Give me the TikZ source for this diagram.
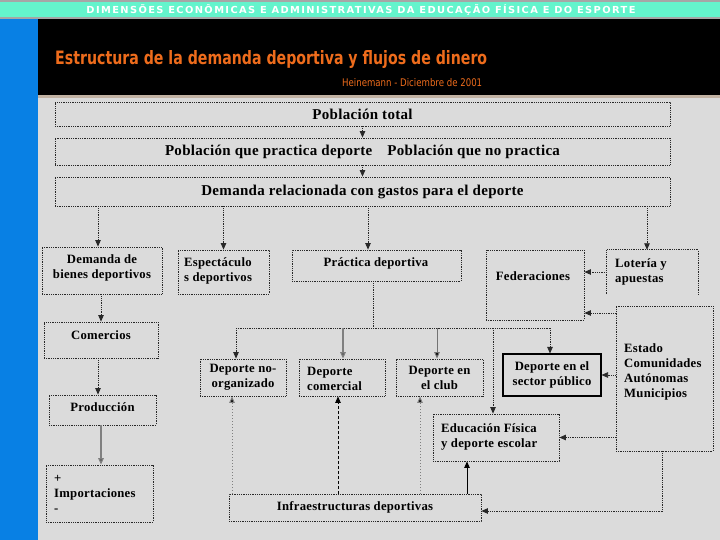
\documentclass[tikz,border=0pt]{standalone}
\usepackage{fontspec}
\setmainfont{Liberation Serif}[LetterSpace=2]
\newfontfamily\titlef{DejaVu Sans}
\newfontfamily\bandf{DejaVu Sans}[LetterSpace=14]
\usetikzlibrary{arrows.meta,calc}
\definecolor{bandc}{RGB}{100,244,204}
\definecolor{bluec}{RGB}{8,128,228}
\definecolor{bgc}{RGB}{219,219,219}
\definecolor{orangec}{RGB}{238,108,28}
\definecolor{linec}{RGB}{40,40,40}
\tikzset{
  box/.style={draw=linec, densely dotted, line width=0.8pt, inner sep=0pt},
  solidbox/.style={draw=black, line width=1.1pt, inner sep=0pt},
  lblbig/.style={font=\fontsize{15}{17}\selectfont\bfseries, inner sep=0pt, align=center},
  lbl/.style={font=\fontsize{12.7}{15}\selectfont\bfseries, inner sep=0pt, align=center},
  lbll/.style={font=\fontsize{12.7}{15}\selectfont\bfseries, inner sep=0pt, align=left},
  arr/.style={draw=linec, densely dotted, line width=0.8pt, -{Triangle[length=6.5pt,width=5.5pt]}},
  ln/.style={draw=linec, densely dotted, line width=0.8pt},
  garr/.style={draw=gray, line width=1.4pt, -{Triangle[length=6.5pt,width=5.5pt,fill=black]}},
  garrt/.style={draw=gray!90!black, line width=1pt, -{Triangle[length=6.5pt,width=5.5pt,fill=black]}},
  sarr/.style={draw=black, line width=0.8pt, -{Triangle[length=6.5pt,width=5.5pt]}},
  gdot/.style={draw=gray, dotted, line width=1pt, -{Triangle[length=6.5pt,width=5.5pt,fill=black]}},
  darr/.style={draw=black, dashed, dash pattern=on 3pt off 2pt, line width=0.7pt, -{Triangle[length=6.5pt,width=5.5pt]}}
}
\begin{document}
\begin{tikzpicture}[x=1pt,y=-1pt]
\useasboundingbox (0,0) rectangle (720,540);
% backgrounds
\fill[bgc] (0,0) rectangle (720,540);
\fill[gray!70] (0,0) rectangle (720,19);
\fill[bandc] (0,2) rectangle (720,17);
\fill[bluec] (0,19) rectangle (38,540);
\fill[black] (38,19) rectangle (720,95);
\fill[gray!60!brown!60] (38,95) rectangle (720,98);
\node[inner sep=0pt, text=white] (band) at (361,9.5) {\resizebox{549pt}{9pt}{\bandf\bfseries DIMENSÕES ECONÔMICAS E ADMINISTRATIVAS DA EDUCAÇÃO FÍSICA E DO ESPORTE}};
\node[inner sep=0pt, anchor=base west, text=orangec] (title) at (55,64.5) {\resizebox{432pt}{14pt}{\titlef\bfseries Estructura de la demanda deportiva y flujos de dinero}};
\node[inner sep=0pt, anchor=base west, text=orangec] (sub) at (342,87) {\resizebox{140pt}{8pt}{\titlef Heinemann - Diciembre de 2001}};

% top boxes
\node[box, minimum width=615pt, minimum height=24pt] (pt) at (362.5,114) {};
\node[lblbig] (ptT) at (pt) {Población total};
\node[box, minimum width=615pt, minimum height=27pt] (pq) at (362.5,151.5) {};
\node[lblbig] (pqT) at (pq) {Población que practica deporte\quad Población que no practica};
\node[box, minimum width=615pt, minimum height=29pt] (drg) at (362.5,191.5) {};
\node[lblbig] (drgT) at (drg) {Demanda relacionada con gastos para el deporte};

% second row
\node[box, minimum width=120pt, minimum height=47pt] (bienes) at (102,270.5) {};
\node[lbl] (bienesT) at (102,268) {Demanda de\\bienes deportivos};
\node[box, minimum width=91pt, minimum height=44pt] (espec) at (223.5,272) {};
\node[lbll, anchor=west] (especT) at (184,271) {Espectáculo\\s deportivos};
\node[box, minimum width=169pt, minimum height=31pt] (prac) at (376.5,265.5) {};
\node[lbl] (pracT) at (376,263) {Práctica deportiva};
\node[box, minimum width=98pt, minimum height=70pt] (fed) at (535,285) {};
\node[lbl] (fedT) at (533,276) {Federaciones};
\node[minimum width=91pt, minimum height=44pt, inner sep=0pt] (lot) at (652.5,272) {};
\draw[ln] (lot.south west) -- (lot.north west) -- (lot.north east) -- (lot.south east);
\node[lbll, anchor=west] (lotT) at (615,272) {Lotería y\\apuestas};
\node[box, minimum width=97pt, minimum height=145pt] (estado) at (664.5,378.5) {};
\node[lbll, anchor=north west] (estadoT) at (624,343) {Estado\\Comunidades\\Autónomas\\Municipios};

% left column
\node[box, minimum width=114pt, minimum height=36pt] (com) at (101,340) {};
\node[lbl] (comT) at (101,335) {Comercios};
\node[box, minimum width=107pt, minimum height=30pt] (prod) at (102.5,410) {};
\node[lbl] (prodT) at (102.5,407) {Producción};
\node[box, minimum width=107pt, minimum height=57pt] (imp) at (99.5,493.5) {};
\node[lbll, anchor=west] (impT) at (54,493.5) {+\\Importaciones\\-};

% practice types
\node[box, minimum width=86pt, minimum height=37pt] (dno) at (243,377.5) {};
\node[lbl] (dnoT) at (dno) {Deporte no-\\organizado};
\node[box, minimum width=86pt, minimum height=37pt] (dcom) at (342,377.5) {};
\node[lbll, anchor=west] (dcomT) at (307,378.5) {Deporte\\comercial};
\node[box, minimum width=87pt, minimum height=37pt] (dclub) at (439.5,377.5) {};
\node[lbl] (dclubT) at (dclub) {Deporte en\\el club};
\node[solidbox, minimum width=98pt, minimum height=42pt] (dpub) at (552,375) {};
\node[lbl] (dpubT) at (dpub) {Deporte en el\\sector público};
\node[box, minimum width=126pt, minimum height=47pt] (edu) at (496,437.5) {};
\node[lbll, anchor=west] (eduT) at (441,437) {Educación Física\\y deporte escolar};
\node[box, minimum width=252pt, minimum height=27pt] (infra) at (355,507.5) {};
\node[lbl] (infraT) at (infra) {Infraestructuras deportivas};

% coordinates
\coordinate (b1) at (236,328);
\coordinate (b2) at (343,328);
\coordinate (b3) at (437,328);
\coordinate (b4) at (493,328);
\coordinate (b5) at (550,328);
\coordinate (bp) at (373,328);
\coordinate (yF2) at (0,313);
\coordinate (ec) at (662,511);
\coordinate (i1) at (232,0);
\coordinate (i2) at (338,0);
\coordinate (i3) at (420,0);
\coordinate (i4) at (467,0);
\coordinate (d1) at (98,0);
\coordinate (d3) at (368,0);
\coordinate (d4) at (647,0);

% connectors top
\draw[arr] (pt.south) -- (pq.north);
\draw[arr] (pq.south) -- (drg.north);
\draw[arr] (drg.south -| d1) -- (bienes.north -| d1);
\draw[arr] (drg.south -| espec.north) -- (espec.north);
\draw[arr] (drg.south -| d3) -- (prac.north -| d3);
\draw[arr] (drg.south -| d4) -- (lot.north -| d4);

% left column
\draw[arr] (bienes.south -| com.north) -- (com.north);
\draw[arr] (com.south -| d1) -- (prod.north -| d1);
\draw[garr] (prod.south -| imp.north) ++(1.5,0) coordinate (pi) -- (pi |- imp.north);

% practica bus
\draw[ln] (prac.south -| bp) -- (bp);
\draw[ln] (b1) -- (b5);
\draw[arr] (b1) -- (b1 |- dno.north);
\draw[garr] (b2) -- (b2 |- dcom.north);
\draw[garrt] (b3) -- (b3 |- dclub.north);
\draw[arr] (b4) -- (b4 |- edu.north);
\draw[arr] (b5) -- (b5 |- dpub.north);

% federaciones, estado
\draw[arr] (lot.west) -- (lot.west -| fed.east);
\draw[arr] (estado.west |- yF2) -- (fed.east |- yF2);
\draw[arr] (estado.west |- dpub.east) -- (dpub.east);
\draw[arr] (estado.west |- edu.east) -- (edu.east);
\draw[ln] (estado.south -| ec) -- (ec);
\draw[arr] (ec) -- (infra.east |- ec);

% infraestructuras
\draw[sarr] (infra.north -| i4) -- (edu.south -| i4);
\draw[gdot] (infra.north -| i3) -- (dclub.south -| i3);
\draw[darr] (infra.north -| i2) -- (dcom.south -| i2);
\draw[gdot] (infra.north -| i1) -- (dno.south -| i1);
\end{tikzpicture}
\end{document}
